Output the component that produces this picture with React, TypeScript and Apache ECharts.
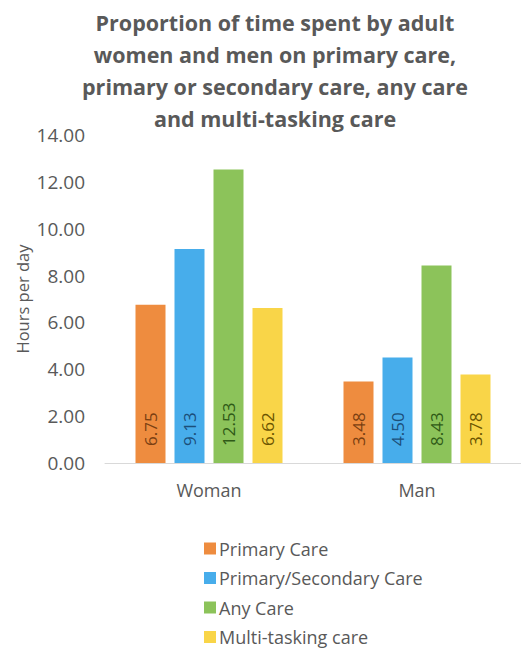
import React, { useEffect, useRef } from "react";
import * as echarts from "echarts";

const categories = ["Woman", "Man"];
const seriesNames = ["Primary Care", "Primary/Secondary Care", "Any Care", "Multi-tasking care"];
const primaryCare = [6.75, 3.48];
const primarySecondaryCare = [9.13, 4.5];
const anyCare = [12.53, 8.43];
const multiTaskingCare = [6.62, 3.78];
const yTicks = { min: 0, max: 14, interval: 2 };

const colors = ["#EE8C3F", "#47ADEB", "#8CC35A", "#F9D548"];
const labelColors = ["#7a3f12", "#1c4f7a", "#2f5a17", "#6b5400"];

export default function App() {
  const ref = useRef<HTMLDivElement>(null);
  useEffect(() => {
    const chart = echarts.init(ref.current!, null, { renderer: "svg" });
    const data = [primaryCare, primarySecondaryCare, anyCare, multiTaskingCare];
    const font = "Open Sans, sans-serif";
    chart.setOption({
      animation: false,
      title: {
        text: "Proportion of time spent by adult\nwomen and men on primary care,\nprimary or secondary care, any care\nand multi-tasking care",
        left: 270,
        textAlign: "center",
        top: 1,
        textStyle: {
          fontFamily: font,
          fontWeight: "bold",
          fontSize: 21.5,
          lineHeight: 32,
          color: "#595959",
        },
      },
      legend: {
        orient: "vertical",
        left: 199,
        top: 533,
        height: 130,
        itemWidth: 12,
        itemHeight: 12,
        itemGap: 8.5,
        icon: "rect",
        textStyle: { fontFamily: font, fontSize: 18, lineHeight: 21, color: "#595959", padding: [0, 0, 0, -2] },
        data: seriesNames,
      },
      grid: { left: 105, top: 135, width: 422, height: 328 },
      xAxis: {
        type: "category",
        data: categories,
        axisLine: { lineStyle: { color: "#d9d9d9" } },
        axisTick: { show: false },
        axisLabel: { fontFamily: font, fontSize: 18, color: "#595959", margin: 18 },
      },
      yAxis: {
        type: "value",
        min: yTicks.min,
        max: yTicks.max,
        interval: yTicks.interval,
        name: "Hours per day",
        nameLocation: "middle",
        nameGap: 74,
        nameMoveOverlap: false,
        nameTextStyle: { fontFamily: font, fontSize: 16.5, color: "#595959" },
        splitLine: { show: false },
        axisLine: { show: false },
        axisLabel: {
          fontFamily: font,
          fontSize: 19,
          color: "#595959",
          margin: 20,
          formatter: (v: number) => v.toFixed(2),
        },
      },
      series: data.map((d, i) => ({
        name: seriesNames[i],
        type: "bar",
        data: d,
        barWidth: 30,
        barGap: "30%",
        itemStyle: { color: colors[i] },
        label: {
          show: true,
          position: "insideBottom",
          rotate: 90,
          align: "left",
          verticalAlign: "middle",
          distance: 17,
          fontFamily: font,
          fontSize: 17,
          color: labelColors[i],
          formatter: (p: any) => Number(p.value).toFixed(2),
        },
      })),
    });
    return () => chart.dispose();
  }, []);
  return <div ref={ref} style={{ width: 521, height: 649, position: "absolute", left: 0, top: 0 }} />;
}
